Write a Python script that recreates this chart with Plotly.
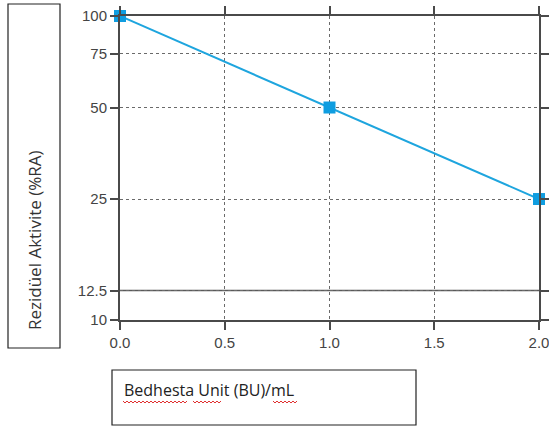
import plotly.graph_objects as go

# Data
bu_per_ml = [0.0, 1.0, 2.0]
residual_activity = [100, 50, 25]
x_tick_vals = [0.0, 0.5, 1.0, 1.5, 2.0]
x_tick_text = ["0.0", "0.5", "1.0", "1.5", "2.0"]
y_tick_vals = [10, 12.5, 25, 50, 75, 100]
y_tick_text = ["10", "12.5", "25", "50", "75", "100"]

W, H = 549, 429
L, R, T, B = 120, 10, 16, 109
PW, PH = W - L - R, H - T - B


def px(x):
    return (x - L) / PW


def py(y):
    return (H - B - y) / PH


fig = go.Figure()
fig.add_trace(go.Scatter(
    x=bu_per_ml, y=residual_activity, mode="lines+markers",
    line=dict(color="#1ea5de", width=2),
    marker=dict(symbol="square", size=12, color="#0f9de0"),
    cliponaxis=False, showlegend=False,
))

axis_common = dict(
    showline=True, linecolor="#4a4a4a", linewidth=2, mirror="ticks",
    ticks="outside", ticklen=8, tickwidth=2, tickcolor="#4a4a4a",
    showgrid=True, gridcolor="#6a6a6a", gridwidth=1, griddash="dot",
    zeroline=False, automargin=False, ticklabeloverflow="allow",
    tickfont=dict(family="Liberation Sans, Arial", size=15, color="#444444"),
)

fig.update_xaxes(range=[0, 2], tickvals=x_tick_vals, ticktext=x_tick_text, **axis_common)
fig.update_yaxes(type="log", range=[1, 2], tickvals=y_tick_vals, ticktext=y_tick_text, **axis_common)

shapes = []
# solid reference line at 12.5
shapes.append(dict(type="line", xref="x", yref="y", x0=0, x1=2, y0=12.5, y1=12.5,
                   line=dict(color="#5a5a5a", width=1.5), layer="below"))
# y title box
shapes.append(dict(type="rect", xref="paper", yref="paper",
                   x0=px(8), x1=px(60), y0=py(348), y1=py(4),
                   line=dict(color="#222222", width=1.2)))
# x title box
shapes.append(dict(type="rect", xref="paper", yref="paper",
                   x0=px(112), x1=px(416), y0=py(425), y1=py(370),
                   line=dict(color="#222222", width=1.2)))


# red wavy spell-check underlines
def wavy(x_start, x_end, y0):
    pts = []
    x = x_start
    up = True
    while x <= x_end:
        pts.append((px(x), py(y0 - 1 if up else y0 + 1)))
        up = not up
        x += 2
    d = "M " + " L ".join(f"{a:.5f},{b:.5f}" for a, b in pts)
    return dict(type="path", xref="paper", yref="paper", path=d,
                line=dict(color="#e03030", width=1))


for a, b in [(123, 187), (193, 221), (273, 297)]:
    shapes.append(wavy(a, b, 402))

fig.update_layout(
    width=W, height=H,
    margin=dict(l=L, r=R, t=T, b=B),
    paper_bgcolor="white", plot_bgcolor="white",
    shapes=shapes,
    annotations=[
        dict(text="Rezidüel Aktivite (%RA)", textangle=-90,
             xref="paper", yref="paper", x=px(34), y=py(240),
             showarrow=False, xanchor="center", yanchor="middle",
             font=dict(family="Open Sans, Liberation Sans", size=17, color="#333333")),
        dict(text="Bedhesta Unit (BU)/mL",
             xref="paper", yref="paper", x=px(122), y=py(390),
             showarrow=False, xanchor="left", yanchor="middle",
             font=dict(family="Open Sans, Liberation Sans", size=16, color="#222222")),
    ],
)

fig.write_html("out.html", config={"displayModeBar": False},
               post_script="document.body.style.margin='0';")
